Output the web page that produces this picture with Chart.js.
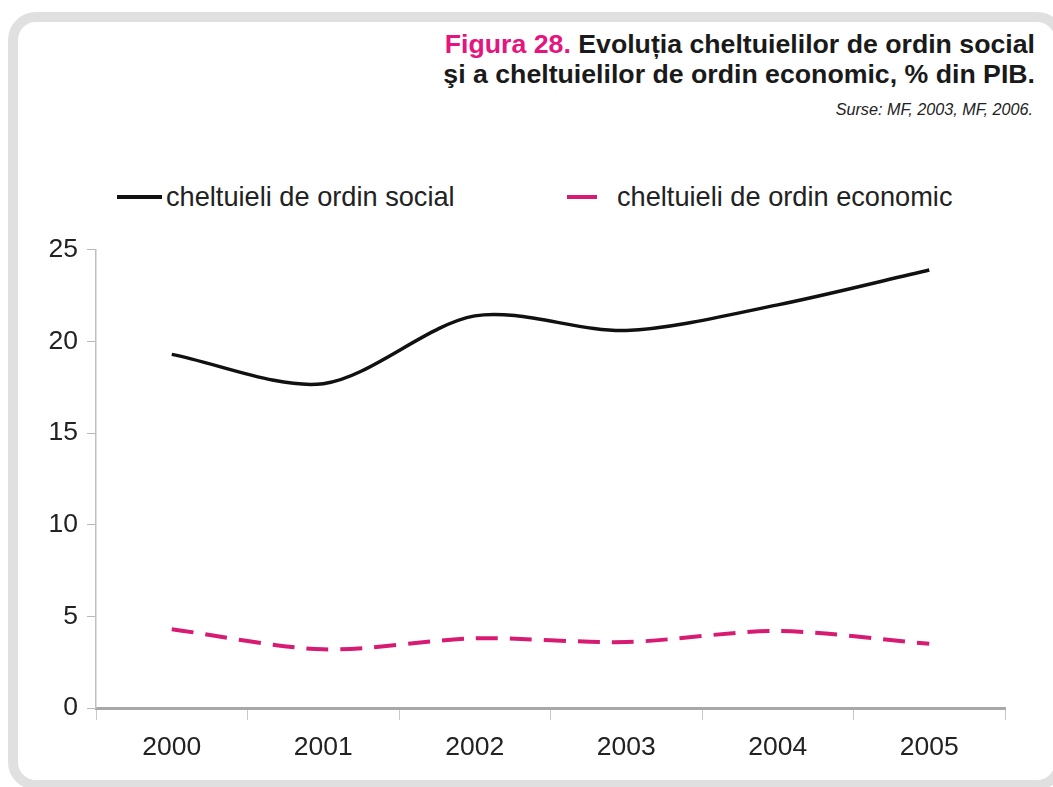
<!DOCTYPE html>
<html>
<head>
<meta charset="utf-8">
<script src="https://cdn.jsdelivr.net/npm/chart.js@4/dist/chart.umd.min.js"></script>
<style>
    html, body { margin: 0; padding: 0; background: #fff; width: 1053px; height: 787px; overflow: hidden; font-family: 'Liberation Sans', Arial, sans-serif; }
    .cadru { position: absolute; left: 8px; top: 12px; width: 1057px; height: 778px; box-sizing: border-box; border: 10px solid #e0e0e0; border-radius: 28px; background: #fff; }
    .titlu { position: absolute; right: 18px; top: 29px; text-align: right; font-weight: bold; font-size: 26.7px; line-height: 30px; color: #1a1a1a; }
    .titlu .nr { color: #e5157f; }
    .surse { position: absolute; right: 20px; top: 100px; font-style: italic; font-size: 16.2px; color: #222; }
    .legenda { position: absolute; top: 182px; font-size: 27.2px; color: #222; line-height: 30px; }
    .legenda .linie { position: absolute; top: 13px; height: 4px; }
    #zona { position: absolute; left: 20px; top: 225px; width: 1010px; height: 555px; }
</style>
</head>
<body>
<div class="cadru"></div>
<div class="titlu"><span class="nr">Figura 28.</span> Evoluția cheltuielilor de ordin social<br>şi a cheltuielilor de ordin economic, % din PIB.</div>
<div class="surse">Surse: MF, 2003, MF, 2006.</div>
<div class="legenda" style="left:117px;"><span class="linie" style="left:0;width:45px;background:#111;"></span><span style="margin-left:49px;">cheltuieli de ordin social</span></div>
<div class="legenda" style="left:567px;"><span class="linie" style="left:0;width:30px;background:#d81b72;"></span><span style="margin-left:50px;">cheltuieli de ordin economic</span></div>
<div id="zona"><canvas id="grafic"></canvas></div>
<script>
    // date
    const ani = ['2000', '2001', '2002', '2003', '2004', '2005'];
    const cheltuieliSociale = [19.3, 17.7, 21.4, 20.6, 22.0, 23.9];
    const cheltuieliEconomice = [4.3, 3.2, 3.8, 3.6, 4.2, 3.5];
    const numeSerii = ['cheltuieli de ordin social', 'cheltuieli de ordin economic'];

    const fontAxe = { family: "'Liberation Sans', Arial, sans-serif", size: 26.5 };

    new Chart(document.getElementById('grafic'), {
        type: 'line',
        data: {
            labels: ani,
            datasets: [
                {
                    label: numeSerii[0],
                    data: cheltuieliSociale,
                    borderColor: '#111111',
                    borderWidth: 3.5,
                    tension: 0.3,
                    pointRadius: 0,
                    fill: false
                },
                {
                    label: numeSerii[1],
                    data: cheltuieliEconomice,
                    borderColor: '#d81b72',
                    borderWidth: 4,
                    borderDash: [22, 12],
                    tension: 0.3,
                    pointRadius: 0,
                    fill: false
                }
            ]
        },
        options: {
            responsive: true,
            maintainAspectRatio: false,
            animation: false,
            layout: { padding: { top: 22, right: 25, bottom: 0, left: 0 } },
            plugins: {
                legend: { display: false },
                tooltip: { enabled: false }
            },
            scales: {
                x: {
                    offset: true,
                    grid: { display: true, drawOnChartArea: false, drawTicks: true, tickLength: 12, color: '#c8c8c8', offset: true },
                    border: { display: true, color: '#a8a8a8', width: 3 },
                    ticks: { color: '#222', font: fontAxe, padding: 12, maxRotation: 0 },
                    afterFit: function(scale) { scale.height = 72; }
                },
                y: {
                    min: 0,
                    max: 25,
                    grid: { display: true, drawOnChartArea: false, drawTicks: true, tickLength: 9, color: '#b8b8b8' },
                    border: { display: true, color: '#c0c0c0', width: 1.5 },
                    ticks: { stepSize: 5, color: '#222', font: fontAxe, padding: 9 },
                    afterFit: function(scale) { scale.width = 76; }
                }
            }
        }
    });
</script>
</body>
</html>
